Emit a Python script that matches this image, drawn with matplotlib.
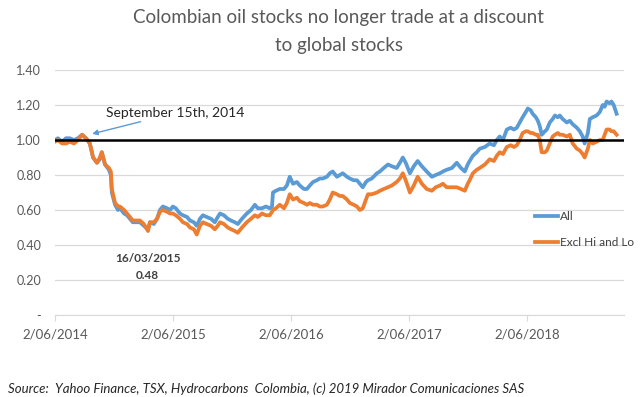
import numpy as np
import pandas as pd
import matplotlib
matplotlib.use('Agg')
import matplotlib.pyplot as plt
import matplotlib.dates as mdates
from matplotlib.ticker import FuncFormatter, FixedLocator

plt.rcParams['font.family'] = ['Lato', 'DejaVu Sans']

# days since 2/06/2014 and the two indexed series
days = [0, 9, 22, 34, 46, 59, 71, 84, 96, 108, 118, 130, 139, 145, 155, 167, 173, 176,
        186, 195, 201, 214, 223, 232, 241, 254, 263, 275, 288, 294, 306, 316, 325, 334,
        347, 356, 365, 374, 387, 396, 409, 418, 430, 439, 449, 458, 470, 483, 495, 504,
        511, 523, 535, 545, 557, 566, 579, 594, 607, 619, 628, 641, 653, 665, 672, 675,
        684, 696, 709, 718, 727, 737, 749, 758, 771, 780, 789, 799, 811, 820, 829, 842,
        851, 860, 873, 882, 891, 904, 913, 925, 935, 944, 953, 963, 969, 981, 997, 1006,
        1018, 1031, 1043, 1058, 1068, 1077, 1086, 1099, 1111, 1123, 1136, 1151, 1167, 1179,
        1192, 1201, 1213, 1229, 1244, 1257, 1269, 1278, 1284, 1294, 1306, 1315, 1331, 1346,
        1359, 1368, 1377, 1387, 1399, 1411, 1421, 1430, 1439, 1448, 1458, 1464, 1473, 1479,
        1489, 1495, 1501, 1507, 1517, 1523, 1532, 1541, 1548, 1557, 1563, 1572, 1585, 1594,
        1603, 1616, 1625, 1634, 1640, 1650, 1656, 1665, 1677, 1687, 1696, 1702, 1708, 1717,
        1723, 1730, 1739]

all_stocks = [1.00, 1.01, 0.99, 1.01, 1.01, 1.00, 1.01, 1.03, 1.01, 0.98, 0.90, 0.87, 0.89,
              0.93, 0.86, 0.83, 0.80, 0.70, 0.63, 0.60, 0.61, 0.58, 0.57, 0.55, 0.53, 0.53,
              0.53, 0.51, 0.49, 0.53, 0.52, 0.55, 0.60, 0.62, 0.61, 0.60, 0.62, 0.61, 0.58,
              0.57, 0.56, 0.54, 0.53, 0.51, 0.55, 0.57, 0.56, 0.55, 0.53, 0.56, 0.58, 0.57,
              0.55, 0.54, 0.53, 0.52, 0.55, 0.58, 0.60, 0.63, 0.61, 0.61, 0.62, 0.61, 0.62,
              0.70, 0.71, 0.72, 0.72, 0.74, 0.79, 0.75, 0.76, 0.74, 0.72, 0.72, 0.74, 0.76,
              0.77, 0.78, 0.78, 0.79, 0.81, 0.82, 0.79, 0.80, 0.81, 0.79, 0.78, 0.77, 0.77,
              0.75, 0.73, 0.76, 0.77, 0.78, 0.81, 0.82, 0.84, 0.86, 0.85, 0.84, 0.87, 0.90,
              0.87, 0.81, 0.85, 0.88, 0.85, 0.82, 0.79, 0.80, 0.81, 0.82, 0.83, 0.84, 0.87,
              0.84, 0.82, 0.86, 0.88, 0.91, 0.93, 0.95, 0.96, 0.98, 0.97, 1.00, 1.02, 1.00,
              1.06, 1.07, 1.06, 1.07, 1.10, 1.13, 1.16, 1.18, 1.17, 1.15, 1.13, 1.11, 1.08,
              1.03, 1.05, 1.06, 1.10, 1.12, 1.14, 1.13, 1.14, 1.12, 1.10, 1.11, 1.09, 1.07,
              1.05, 1.02, 0.98, 1.04, 1.12, 1.13, 1.14, 1.16, 1.20, 1.19, 1.22, 1.21, 1.22,
              1.20, 1.15]

excl_hi_lo = [0.99, 1.00, 0.98, 0.98, 0.99, 0.98, 1.00, 1.03, 1.01, 0.98, 0.90, 0.87, 0.90,
              0.93, 0.86, 0.84, 0.82, 0.72, 0.64, 0.62, 0.62, 0.60, 0.58, 0.56, 0.54, 0.54,
              0.54, 0.52, 0.48, 0.53, 0.53, 0.55, 0.59, 0.60, 0.59, 0.58, 0.58, 0.57, 0.55,
              0.53, 0.52, 0.50, 0.49, 0.46, 0.51, 0.53, 0.52, 0.51, 0.49, 0.51, 0.53, 0.52,
              0.50, 0.49, 0.48, 0.47, 0.50, 0.53, 0.55, 0.57, 0.56, 0.58, 0.57, 0.57, 0.59,
              0.60, 0.61, 0.63, 0.61, 0.64, 0.69, 0.66, 0.67, 0.65, 0.64, 0.63, 0.64, 0.63,
              0.63, 0.62, 0.62, 0.63, 0.66, 0.70, 0.69, 0.68, 0.68, 0.66, 0.64, 0.63, 0.62,
              0.60, 0.61, 0.66, 0.69, 0.69, 0.70, 0.71, 0.72, 0.73, 0.74, 0.76, 0.78, 0.81,
              0.77, 0.70, 0.74, 0.79, 0.75, 0.72, 0.71, 0.73, 0.74, 0.75, 0.73, 0.73, 0.73,
              0.72, 0.71, 0.75, 0.77, 0.81, 0.83, 0.84, 0.86, 0.89, 0.88, 0.91, 0.93, 0.92,
              0.96, 0.97, 0.96, 0.97, 1.00, 1.04, 1.05, 1.05, 1.04, 1.04, 1.03, 1.03, 1.00,
              0.93, 0.93, 0.94, 0.98, 1.02, 1.03, 1.04, 1.03, 1.03, 1.02, 1.03, 0.98, 0.95,
              0.94, 0.92, 0.90, 0.95, 1.00, 0.98, 0.99, 1.00, 1.00, 1.03, 1.06, 1.06, 1.05,
              1.05, 1.03]

start = pd.Timestamp('2014-06-02')
dates = start + pd.to_timedelta(days, unit='D')
tick_dates = pd.to_datetime(['2014-06-02', '2015-06-02', '2016-06-02', '2017-06-02', '2018-06-02'])
y_ticks = [0, 0.2, 0.4, 0.6, 0.8, 1.0, 1.2, 1.4]

blue = '#5B9BD5'
orange = '#ED7D31'
grey = '#595959'

fig = plt.figure(figsize=(6.43, 3.97), dpi=100)
ax = fig.add_axes([0.0855, 0.2065, 0.8845, 0.6172])

ax.plot(dates, all_stocks, color=blue, lw=2.7, label='All', zorder=3)
ax.plot(dates, excl_hi_lo, color=orange, lw=2.7, label='Excl Hi and Lo', zorder=4)
ax.axhline(1.0, color='black', lw=1.8, zorder=5)

ax.set_ylim(0, 1.4)
ax.set_xlim(start, start + pd.Timedelta(days=1761))
ax.set_yticks(y_ticks)
ax.yaxis.set_major_formatter(FuncFormatter(lambda v, p: '-' if v == 0 else f'{v:.2f}'))
ax.xaxis.set_major_locator(FixedLocator(mdates.date2num(tick_dates)))
ax.xaxis.set_major_formatter(FuncFormatter(
    lambda v, p: f'{mdates.num2date(v).day}/{mdates.num2date(v).month:02d}/{mdates.num2date(v).year}'))

ax.grid(axis='y', color='#D9D9D9', lw=0.9)
ax.set_axisbelow(True)
for s in ['top', 'right', 'left']:
    ax.spines[s].set_visible(False)
ax.spines['bottom'].set_color('#D9D9D9')
ax.tick_params(axis='y', length=0, labelsize=9, labelcolor=grey, pad=10)
ax.tick_params(axis='x', length=4, color='#D9D9D9', labelsize=9.5, labelcolor=grey, pad=6)

fig.text(0.527, 0.955, 'Colombian oil stocks no longer trade at a discount',
         ha='center', va='center', fontsize=13.5, color=grey)
fig.text(0.527, 0.885, 'to global stocks', ha='center', va='center', fontsize=13.5, color=grey)

ax.annotate('September 15th, 2014', xy=(pd.Timestamp('2014-09-25'), 1.035),
            xytext=(pd.Timestamp('2014-11-08'), 1.155), fontsize=10, color='#262626',
            va='center', ha='left',
            arrowprops=dict(arrowstyle='-|>', color=blue, lw=1, mutation_scale=8,
                            shrinkA=0, shrinkB=0))
ax.text(pd.Timestamp('2015-03-16'), 0.325, '16/03/2015', ha='center', va='center',
        fontsize=8.5, color='#404040', fontweight='bold')
ax.text(pd.Timestamp('2015-03-16'), 0.225, '0.48', ha='center', va='center',
        fontsize=8.5, color='#404040', fontweight='bold')

fig.legend(loc='upper left', bbox_to_anchor=(0.815, 0.495), frameon=False, fontsize=8.5,
           handlelength=2.0, handletextpad=0.15, labelspacing=1.3, labelcolor='#404040')

fig.text(0.012, 0.022, 'Source:  Yahoo Finance, TSX, Hydrocarbons  Colombia, (c) 2019 Mirador Comunicaciones SAS',
         fontsize=9.5, style='italic', color='#262626', ha='left', va='center')

fig.savefig('out.png', dpi=100)
